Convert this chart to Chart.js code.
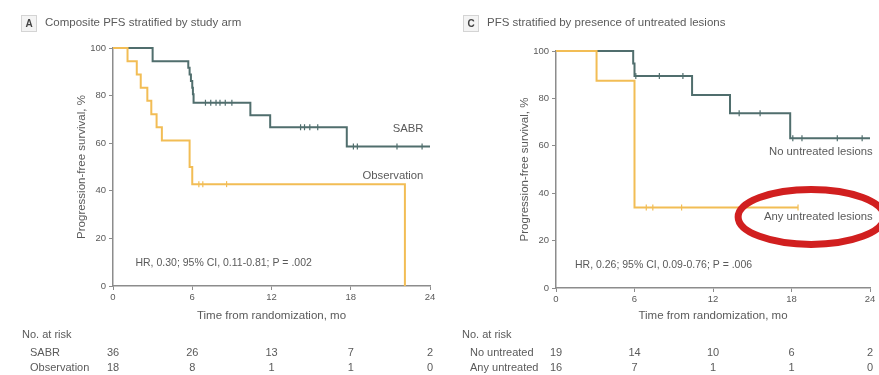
<!DOCTYPE html>
<html>
<head>
<meta charset="utf-8">
<script src="https://cdn.jsdelivr.net/npm/chart.js@4/dist/chart.umd.min.js"></script>
<style>
  html, body { margin: 0; padding: 0; background: #fff; }
  #wrap { position: relative; width: 879px; height: 375px; overflow: hidden; }
  .panel { position: absolute; top: 0; height: 375px; }
</style>
</head>
<body>
<div id="wrap">
  <div class="panel" style="left:0;width:440px"><canvas id="armChart"></canvas></div>
  <div class="panel" style="left:440px;width:439px"><canvas id="lesionChart"></canvas></div>
</div>
<script>
// Shared axis ticks
const monthTicks = [0, 6, 12, 18, 24];
const percentTicks = [0, 20, 40, 60, 80, 100];

// Panel A: PFS by study arm (Kaplan-Meier steps, months / %)
const sabrTimes    = [0, 3.0, 5.7, 5.8, 5.9, 6.0, 6.05, 6.1, 10.4, 11.9, 17.7, 24];
const sabrSurvival = [100, 94.4, 91.7, 88.9, 86.1, 83.3, 80.6, 77.0, 71.7, 66.7, 58.6, 58.6];
const sabrCensored = [7.0, 7.4, 7.8, 8.1, 8.5, 9.0, 14.2, 14.5, 14.9, 15.5, 18.2, 18.5, 21.5, 23.4];

const obsTimes    = [0, 1.1, 1.8, 2.1, 2.6, 2.9, 3.3, 3.7, 5.8, 6.0, 22.1];
const obsSurvival = [100, 94.4, 88.9, 83.3, 77.8, 72.2, 66.7, 61.1, 50.0, 42.8, 0];
const obsCensored = [6.5, 6.8, 8.6];

const armRiskLabels = ['SABR', 'Observation'];
const sabrAtRisk = [36, 26, 13, 7, 2];
const obsAtRisk  = [18, 8, 1, 1, 0];

// Panel C: PFS by presence of untreated lesions
const noUntreatedTimes    = [0, 5.9, 6.0, 10.4, 13.3, 17.9, 24];
const noUntreatedSurvival = [100, 94.7, 89.5, 81.4, 73.7, 63.2, 63.2];
const noUntreatedCensored = [6.1, 7.9, 9.7, 14.0, 15.6, 18.1, 18.8, 21.5, 23.4];

const anyUntreatedTimes    = [0, 3.1, 6.0, 18.5];
const anyUntreatedSurvival = [100, 87.5, 34.0, 34.0];
const anyUntreatedCensored = [6.9, 7.4, 9.6, 18.5];

const lesionRiskLabels = ['No untreated', 'Any untreated'];
const noUntreatedAtRisk  = [19, 14, 10, 6, 2];
const anyUntreatedAtRisk = [16, 7, 1, 1, 0];

const FONT = '"Liberation Sans", Arial, sans-serif';
const TEXT = '#5a5a5a';
const AXIS = '#8c8c8c';
const DARK = '#506e6d';
const GOLD = '#f2bd55';

function survivalAt(times, values, t) {
  let s = values[0];
  for (let i = 0; i < times.length; i++) if (times[i] <= t) s = values[i];
  return s;
}

function curve(times, values, color) {
  return {
    data: times.map((t, i) => ({ x: t, y: values[i] })),
    stepped: true, borderColor: color, borderWidth: 2,
    pointRadius: 0, fill: false, clip: 6
  };
}

function marks(times, values, censored, color) {
  return {
    data: censored.map(t => ({ x: t, y: survivalAt(times, values, t) })),
    showLine: false, pointStyle: 'line', rotation: 90, pointRadius: 3,
    borderColor: color, borderWidth: 1.2, clip: 6
  };
}

function font(size) { return size + 'px ' + FONT; }

function makePanel(id, p) {
  const overlay = {
    id: 'panelText',
    afterDraw(chart) {
      const { ctx, chartArea: a, scales: { x, y } } = chart;
      ctx.save();
      ctx.textBaseline = 'middle';

      // Panel letter box and heading
      ctx.strokeStyle = '#d4d4d4';
      ctx.lineWidth = 1;
      ctx.fillStyle = '#f4f4f4';
      ctx.fillRect(p.boxX, 15, 16, 17);
      ctx.strokeRect(p.boxX + 0.5, 15.5, 15, 16);
      ctx.fillStyle = '#444';
      ctx.font = 'bold ' + font(10);
      ctx.textAlign = 'center';
      ctx.fillText(p.letter, p.boxX + 8, 24);
      ctx.fillStyle = TEXT;
      ctx.font = font(11.5);
      ctx.textAlign = 'left';
      ctx.fillText(p.heading, p.boxX + 24, 23);

      // Axis titles
      ctx.font = font(11.5);
      ctx.save();
      ctx.translate(a.left - 31, (a.top + a.bottom) / 2);
      ctx.rotate(-Math.PI / 2);
      ctx.textAlign = 'center';
      ctx.fillText('Progression-free survival, %', 0, 0);
      ctx.restore();
      ctx.textAlign = 'center';
      ctx.fillText('Time from randomization, mo', (a.left + a.right) / 2, 316);

      // Curve labels
      ctx.font = font(11.3);
      ctx.textAlign = 'right';
      p.labels.forEach(l => ctx.fillText(l.text, x.getPixelForValue(l.x), y.getPixelForValue(l.y)));

      // Hazard ratio statement
      ctx.font = font(10.5);
      ctx.textAlign = 'left';
      ctx.fillText(p.hr, x.getPixelForValue(p.hrAt[0]), y.getPixelForValue(p.hrAt[1]));

      // Number at risk table
      ctx.font = font(11);
      ctx.fillText('No. at risk', 22, 335);
      p.riskLabels.forEach((lab, r) => ctx.fillText(lab, 30, 353 + r * 15));
      ctx.textAlign = 'center';
      p.riskRows.forEach((row, r) => {
        row.forEach((n, i) => ctx.fillText(String(n), x.getPixelForValue(monthTicks[i]), 353 + r * 15));
      });

      // Highlight ring
      if (p.ring) {
        ctx.strokeStyle = '#d11f1f';
        ctx.lineWidth = 7;
        ctx.beginPath();
        ctx.ellipse(x.getPixelForValue(p.ring.x), y.getPixelForValue(p.ring.y), p.ring.rx, p.ring.ry, 0, 0, Math.PI * 2);
        ctx.stroke();
      }
      ctx.restore();
    }
  };

  return new Chart(document.getElementById(id), {
    type: 'line',
    data: { datasets: p.datasets },
    options: {
      responsive: true, maintainAspectRatio: false, animation: false,
      layout: { padding: { left: p.padLeft, top: p.padTop, right: p.padRight, bottom: 0 } },
      plugins: { legend: { display: false }, tooltip: { enabled: false } },
      scales: {
        x: {
          type: 'linear', min: 0, max: 24,
          afterBuildTicks: s => { s.ticks = monthTicks.map(v => ({ value: v })); },
          afterFit: s => { s.height = p.xHeight; },
          grid: { drawOnChartArea: false, drawTicks: true, tickLength: 4, color: AXIS, lineWidth: 1 },
          border: { color: AXIS, width: 1.5 },
          ticks: { color: TEXT, font: { family: FONT, size: 9.5 }, padding: 2, maxRotation: 0 }
        },
        y: {
          type: 'linear', min: 0, max: 100,
          afterBuildTicks: s => { s.ticks = percentTicks.map(v => ({ value: v })); },
          afterFit: s => { s.width = 40; },
          grid: { drawOnChartArea: false, drawTicks: true, tickLength: 4, color: AXIS, lineWidth: 1 },
          border: { color: AXIS, width: 1.5 },
          ticks: { color: TEXT, font: { family: FONT, size: 9.5 }, padding: 3 }
        }
      }
    },
    plugins: [overlay]
  });
}

makePanel('armChart', {
  letter: 'A', boxX: 21, heading: 'Composite PFS stratified by study arm',
  padLeft: 73, padTop: 48, padRight: 10, xHeight: 89,
  datasets: [
    curve(obsTimes, obsSurvival, GOLD),
    marks(obsTimes, obsSurvival, obsCensored, GOLD),
    curve(sabrTimes, sabrSurvival, DARK),
    marks(sabrTimes, sabrSurvival, sabrCensored, DARK)
  ],
  labels: [
    { text: 'SABR', x: 23.5, y: 66 },
    { text: 'Observation', x: 23.5, y: 46.4 }
  ],
  hr: 'HR, 0.30; 95% CI, 0.11-0.81; P = .002', hrAt: [1.7, 9.7],
  riskLabels: armRiskLabels, riskRows: [sabrAtRisk, obsAtRisk]
});

makePanel('lesionChart', {
  letter: 'C', boxX: 23, heading: 'PFS stratified by presence of untreated lesions',
  padLeft: 76, padTop: 51, padRight: 9, xHeight: 87,
  datasets: [
    curve(anyUntreatedTimes, anyUntreatedSurvival, GOLD),
    marks(anyUntreatedTimes, anyUntreatedSurvival, anyUntreatedCensored, GOLD),
    curve(noUntreatedTimes, noUntreatedSurvival, DARK),
    marks(noUntreatedTimes, noUntreatedSurvival, noUntreatedCensored, DARK)
  ],
  labels: [
    { text: 'No untreated lesions', x: 24.2, y: 57.3 },
    { text: 'Any untreated lesions', x: 24.2, y: 29.9 }
  ],
  hr: 'HR, 0.26; 95% CI, 0.09-0.76; P = .006', hrAt: [1.45, 9.7],
  riskLabels: lesionRiskLabels, riskRows: [noUntreatedAtRisk, anyUntreatedAtRisk],
  ring: { x: 19.5, y: 30, rx: 73, ry: 27.5 }
});
</script>
</body>
</html>
